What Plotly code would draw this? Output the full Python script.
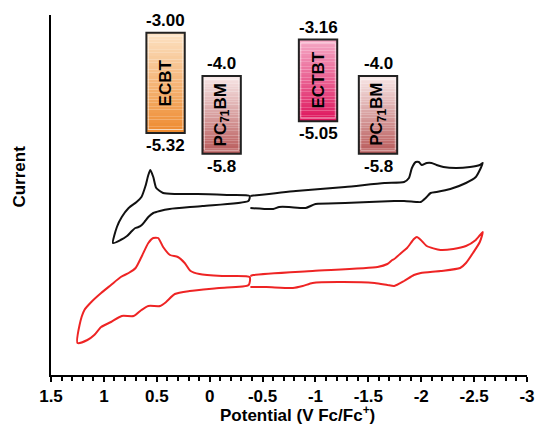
import plotly.graph_objects as go

# ---------------- data ----------------
# Black CV (ECBT), potential in V vs Fc/Fc+, current in arbitrary units
black_left_v = [-0.378, -0.164, 0.115, 0.319, 0.44, 0.505, 0.533, 0.561, 0.58, 0.607, 0.645, 0.691,
                0.766, 0.831, 0.877, 0.914, 0.843, 0.781, 0.735, 0.703, 0.673, 0.642, 0.610, 0.580,
                0.533, 0.471, 0.378, 0.068, -0.366, -0.378]
black_left_i = [179, 180, 181, 181, 182, 187, 198, 205, 200, 189, 178, 173,
                167, 158, 148, 132, 135, 139, 144, 147, 148, 150, 154, 158,
                162, 164, 166, 169, 174, 179]
black_right_v = [-0.385, -0.815, -1.28, -1.652, -1.838, -1.884, -1.912, -1.949, -1.977, -2.005, -2.052,
                 -2.098, -2.145, -2.21, -2.33, -2.461, -2.554, -2.582,
                 -2.563, -2.516, -2.423, -2.275, -2.145, -2.089, -2.042, -1.996, -1.959, -1.838,
                 -1.745, -1.28, -1.001, -0.908, -0.75, -0.657, -0.601, -0.385]
black_right_i = [179, 184, 188, 192, 193, 197, 207, 213, 213, 210, 212,
                 212, 210, 208, 207, 208, 210, 212,
                 207, 198, 192, 186, 183, 182, 177, 173, 173, 174,
                 174, 172, 171, 167, 168, 168, 166, 167]

# Red CV (ECTBT)
red_left_v = [-0.378, -0.118, 0.096, 0.180, 0.236, 0.301, 0.375, 0.440, 0.487, 0.533, 0.580, 0.645,
              0.700, 0.766, 0.840, 0.933, 1.026, 1.119, 1.184, 1.230, 1.249,
              1.156, 1.091, 1.026, 0.933, 0.831, 0.719, 0.645, 0.580, 0.468, 0.412, 0.329,
              0.189, -0.090, -0.369, -0.378]
red_left_i = [98, 99, 101, 104, 112, 118, 120, 128, 137, 137, 132, 118,
              107, 102, 98, 90, 82, 73, 65, 50, 32,
              35, 40, 48, 53, 59, 59, 65, 69, 69, 73, 81,
              84, 87, 90, 98]
red_right_v = [-0.385, -0.415, -0.973, -1.587, -1.680, -1.726, -1.745, -1.810, -1.866, -1.931, -1.959,
               -1.996, -2.052, -2.182, -2.303, -2.423, -2.516, -2.582,
               -2.554, -2.489, -2.423, -2.368, -2.182, -1.996, -1.931, -1.838, -1.745, -1.680,
               -1.559, -1.215, -0.973, -0.880, -0.787, -0.536, -0.385]
red_right_i = [99, 100, 104, 108, 111, 115, 116, 122, 127, 136, 138,
               135, 129, 125, 126, 129, 135, 143,
               133, 122, 112, 107, 104, 102, 100, 94, 89, 90,
               92, 93, 92, 89, 87, 88, 88]

# Energy levels (eV)
materials = ["ECBT", "PC<sub>71</sub>BM", "ECTBT", "PC<sub>71</sub>BM"]
lumo = [-3.00, -4.0, -3.16, -4.0]
homo = [-5.32, -5.8, -5.05, -5.8]
lumo_text = ["-3.00", "-4.0", "-3.16", "-4.0"]
homo_text = ["-5.32", "-5.8", "-5.05", "-5.8"]

tick_vals = [1.5, 1, 0.5, 0, -0.5, -1, -1.5, -2, -2.5, -3]
tick_text = ["1.5", "1", "0.5", "0", "-0.5", "-1", "-1.5", "-2", "-2.5", "-3"]

# ---------------- styles ----------------
box_centers = [0.2407, 0.3585, 0.561, 0.687]   # paper x
box_width = 0.0806
box_top_colors = [(252, 226, 196), (248, 232, 232), (245, 170, 198), (248, 232, 232)]
box_bot_colors = [(238, 138, 46), (184, 88, 88), (222, 20, 92), (184, 88, 88)]
FONT = "Liberation Sans, Arial, sans-serif"

fig = go.Figure()
for xs, ys, col in [(black_left_v, black_left_i, "#111111"), (black_right_v, black_right_i, "#111111"),
                    (red_left_v, red_left_i, "#ee2424"), (red_right_v, red_right_i, "#ee2424")]:
    fig.add_trace(go.Scatter(x=xs, y=ys, mode="lines", line=dict(color=col, width=2, shape="spline",
                                                                 smoothing=0.6),
                             hoverinfo="skip", showlegend=False))

# invisible trace to anchor the energy axis
fig.add_trace(go.Scatter(x=[0] * len(lumo), y=lumo, yaxis="y2", mode="markers",
                         marker=dict(opacity=0), hoverinfo="skip", showlegend=False))

shapes = []
annotations = []
N = 30
for k in range(len(materials)):
    x0 = box_centers[k] - box_width / 2
    x1 = box_centers[k] + box_width / 2
    top, bot = lumo[k], homo[k]
    for j in range(N):
        t = (j + 0.5) / N
        c = tuple(int(round(box_top_colors[k][m] + (box_bot_colors[k][m] - box_top_colors[k][m]) * t))
                  for m in range(3))
        ya = top + (bot - top) * j / N
        yb = top + (bot - top) * (j + 1) / N
        shapes.append(dict(type="rect", xref="paper", yref="y2", x0=x0, x1=x1, y0=yb, y1=ya,
                           fillcolor="rgb(%d,%d,%d)" % c, line=dict(width=0), layer="above"))
    shapes.append(dict(type="rect", xref="paper", yref="y2", x0=x0 + 0.004, x1=x1 - 0.004,
                       y0=bot + 0.08, y1=top - 0.08, line=dict(color="rgba(255,255,255,0.55)", width=1),
                       layer="above"))
    shapes.append(dict(type="rect", xref="paper", yref="y2", x0=x0, x1=x1, y0=bot, y1=top,
                       line=dict(color="#222222", width=2), layer="above"))
    annotations.append(dict(x=box_centers[k], y=(top + bot) / 2, xref="paper", yref="y2",
                            xanchor="center", yanchor="middle",
                            text="<b>%s</b>" % materials[k], textangle=-90, showarrow=False,
                            font=dict(family=FONT, size=17, color="black")))
    annotations.append(dict(x=box_centers[k], y=top, xref="paper", yref="y2",
                            xanchor="center", yanchor="bottom",
                            text="<b>%s</b>" % lumo_text[k], showarrow=False, yshift=1,
                            font=dict(family=FONT, size=17, color="black")))
    annotations.append(dict(x=box_centers[k], y=bot, xref="paper", yref="y2",
                            xanchor="center", yanchor="top",
                            text="<b>%s</b>" % homo_text[k], showarrow=False, yshift=-1,
                            font=dict(family=FONT, size=17, color="black")))

annotations.append(dict(x=0.5186, y=-0.108, xref="paper", yref="paper", xanchor="center",
                        yanchor="middle",
                        text="<b>Potential (V Fc/Fc<sup>+</sup>)</b>", showarrow=False,
                        font=dict(family=FONT, size=17, color="black")))
annotations.append(dict(x=-0.066, y=0.55, xref="paper", yref="paper", xanchor="center",
                        yanchor="middle", textangle=-90,
                        text="<b>Current</b>", showarrow=False,
                        font=dict(family=FONT, size=17, color="black")))

fig.update_layout(
    width=545, height=435,
    margin=dict(l=51, r=10, t=15, b=60),
    paper_bgcolor="white", plot_bgcolor="white",
    showlegend=False,
    xaxis=dict(range=[1.5, -3], tickvals=tick_vals, ticktext=tick_text,
               showline=True, linecolor="black", linewidth=2, zeroline=False, showgrid=False,
               ticks="outside", ticklen=5, tickwidth=2, tickcolor="black",
               minor=dict(dtick=0.1, ticks="outside", ticklen=4, tickwidth=1.5, tickcolor="black"),
               ticklabelstandoff=0,
               tickfont=dict(family=FONT, size=17, color="black", weight="bold")),
    yaxis=dict(range=[0, 360], showline=True, linecolor="black", linewidth=2, zeroline=False,
               showgrid=False, showticklabels=False, ticks=""),
    yaxis2=dict(range=[-10.917, -2.592], overlaying="y", visible=False),
    shapes=shapes,
    annotations=annotations,
)

fig.write_html("out.html")
